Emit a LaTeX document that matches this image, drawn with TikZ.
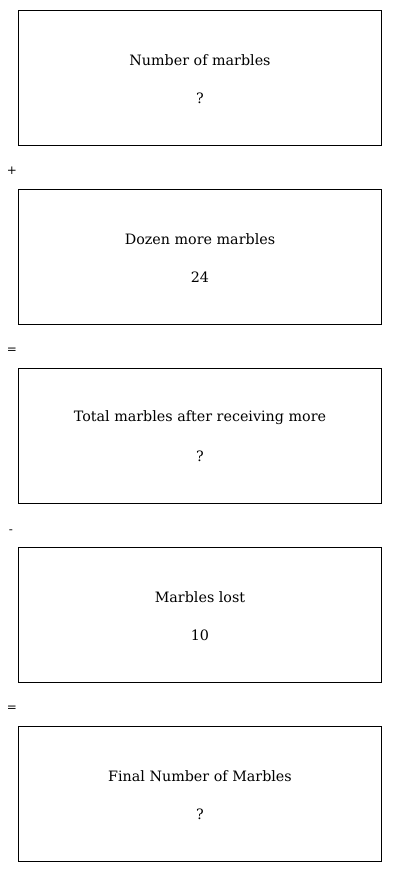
\documentclass[tikz,border=0pt]{standalone}
\usepackage{fontspec}
\setmainfont{DejaVu Serif}
\begin{document}
\begin{tikzpicture}[x=1pt,y=-1pt,
  box/.style={draw,line width=0.9pt},
  lbl/.style={font=\fontsize{14.3}{17}\selectfont,inner sep=0pt,anchor=center},
  op/.style={font=\fontsize{12}{14}\selectfont,inner sep=0pt,anchor=center}]
\useasboundingbox (0,0) rectangle (400,872);
\foreach \i/\t/\v in {0/Number of marbles/?,1/Dozen more marbles/24,2/Total marbles after receiving more/?,3/Marbles lost/10,4/Final Number of Marbles/?}{
  \pgfmathsetmacro{\ytop}{10+179*\i}
  \draw[box] (18.5,\ytop) rectangle (381,\ytop+135);
  \node[lbl] (t\i) at (200,\ytop+50) {\t};
  \node[lbl] (v\i) at (200,\ytop+88) {\v};
}
\node[op] (o1) at (12,171) {+};
\node[op] (o2) at (12,351) {=};
\node[op] (o3) at (11,532) {-};
\node[op] (o4) at (12,709) {=};
\end{tikzpicture}
\end{document}
